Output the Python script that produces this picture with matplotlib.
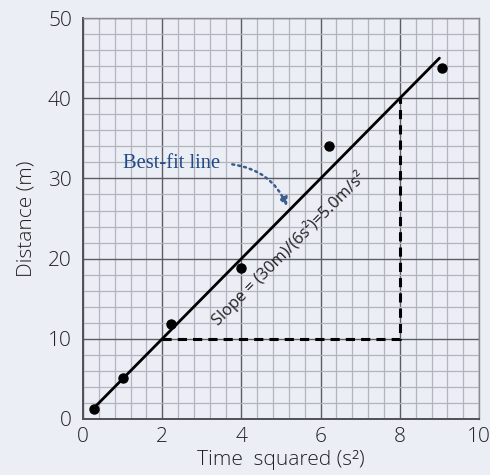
import matplotlib.pyplot as plt
from matplotlib.ticker import MultipleLocator

# data
time_sq = [0.29, 1.01, 2.21, 4.0, 6.22, 9.07]
distance = [1.2, 5.1, 11.8, 18.8, 34.0, 43.8]
fit_x = [0.29, 9.0]
slope = 5.0
fit_y = [slope * v for v in fit_x]
tri_x = [2, 8, 8]
tri_y = [10, 10, 40]
xticks = [0, 2, 4, 6, 8, 10]
yticks = [0, 10, 20, 30, 40, 50]

bg = "#eceef6"
hand = "Open Sans"

fig = plt.figure(figsize=(4.9, 4.75), dpi=100, facecolor=bg)
ax = fig.add_axes([0.1694, 0.1179, 0.8082, 0.8441])
ax.set_facecolor(bg)
ax.set_xlim(0, 10)
ax.set_ylim(0, 50)

ax.xaxis.set_major_locator(MultipleLocator(2))
ax.xaxis.set_minor_locator(MultipleLocator(0.4))
ax.yaxis.set_major_locator(MultipleLocator(10))
ax.yaxis.set_minor_locator(MultipleLocator(2))
ax.grid(which="minor", color="#b4b4be", lw=0.9)
ax.grid(which="major", color="#5c5c64", lw=1.0)
ax.set_axisbelow(True)
ax.tick_params(which="both", length=0)
for s in ["top", "right"]:
    ax.spines[s].set_color("#8a8a92")
    ax.spines[s].set_linewidth(1.0)
for s in ["left", "bottom"]:
    ax.spines[s].set_color("#505058")
    ax.spines[s].set_linewidth(1.4)

ax.set_xticks(xticks)
ax.set_yticks(yticks)
ax.set_xticklabels([str(v) for v in xticks], fontsize=15, family=hand, fontweight="light", color="#222")
ax.set_yticklabels([str(v) for v in yticks], fontsize=15, family=hand, fontweight="light", color="#222")
ax.tick_params(axis="x", pad=6)
ax.tick_params(axis="y", pad=8)

ax.set_xlabel("Time  squared (s²)", fontsize=15, family=hand, fontweight="light", color="#222", labelpad=2)
ax.set_ylabel("Distance (m)", fontsize=15, family=hand, fontweight="light", color="#222", labelpad=8)

ax.plot(fit_x, fit_y, color="black", lw=2.0, solid_capstyle="round", zorder=3)
ax.plot(time_sq, distance, "o", color="black", ms=6.5, zorder=4)
ax.plot(tri_x, tri_y, color="black", lw=2.2, ls=(0, (3, 2)), zorder=3)

ax.text(5.2, 21.3, "Slope = (30m)/(6s²)=5.0m/s²", rotation=45, rotation_mode="anchor",
        ha="center", va="center", fontsize=11.8, family=hand, color="#222")

ax.text(1.0, 31.8, "Best-fit line", fontsize=14.8, family="Liberation Serif",
        color="#1f4a86", va="center", ha="left")
ax.annotate("", xy=(5.18, 26.2), xytext=(3.7, 31.8),
            arrowprops=dict(arrowstyle="-|>,head_length=0.5,head_width=0.25",
                            color="#3b5f8c", lw=1.8, ls=(0, (0.8, 1.6)),
                            connectionstyle="arc3,rad=-0.3"))

fig.savefig("out.png", dpi=100, facecolor=bg)
